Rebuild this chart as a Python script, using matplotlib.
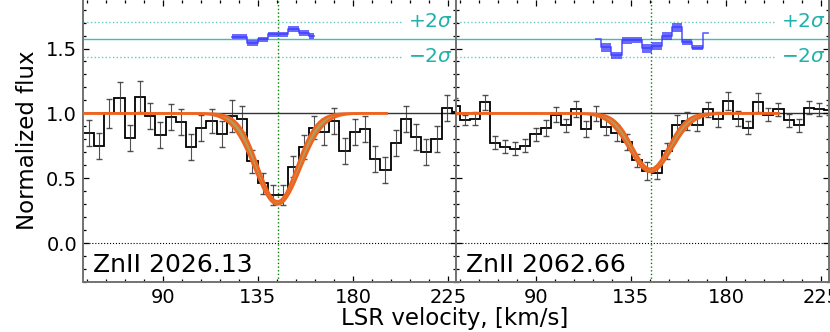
import numpy as np
import matplotlib.pyplot as plt

# velocity grid of the binned spectra (km/s): first bin centre and bin width
vstart_left, dv_left = 55.0, 4.84
vstart_right, dv_right = 51.55, 4.79

flux_left = [0.85, 0.75, 1.00, 1.12, 0.81, 1.13, 0.98, 0.83, 0.97, 0.93,
             0.74, 0.89, 0.94, 0.84, 0.98, 0.96, 0.63, 0.46, 0.37, 0.37,
             0.59, 0.74, 0.89, 0.86, 0.94, 0.71, 0.86, 0.88, 0.65, 0.56,
             0.77, 0.96, 0.82, 0.70, 0.80, 1.04, 1.01]
err_left = [0.10, 0.10, 0.11, 0.12, 0.10, 0.12, 0.10, 0.10, 0.10, 0.10,
            0.10, 0.10, 0.09, 0.10, 0.12, 0.10, 0.09, 0.08, 0.08, 0.08,
            0.08, 0.09, 0.09, 0.10, 0.10, 0.10, 0.10, 0.10, 0.10, 0.10,
            0.10, 0.10, 0.10, 0.10, 0.10, 0.10, 0.10]

flux_right = [1.056, 0.948, 0.96, 1.084, 0.775, 0.741, 0.729, 0.749, 0.839, 0.888,
              0.991, 0.909, 1.032, 0.878, 0.999, 0.896, 0.85, 0.78, 0.639, 0.554,
              0.543, 0.71, 0.914, 0.94, 0.914, 1.03, 0.953, 1.094, 0.96, 0.891,
              1.084, 0.991, 1.032, 0.948, 0.909, 1.043, 1.032, 1.025]
err_right = [0.06, 0.04, 0.05, 0.06, 0.05, 0.05, 0.05, 0.05, 0.05, 0.06,
             0.06, 0.05, 0.06, 0.06, 0.06, 0.06, 0.06, 0.06, 0.05, 0.07,
             0.05, 0.06, 0.07, 0.07, 0.05, 0.06, 0.06, 0.07, 0.06, 0.05,
             0.07, 0.05, 0.05, 0.05, 0.05, 0.05, 0.05, 0.04]

# residuals (shifted to the residual zero level), first bin index
res_first_left = 14
res_left = [1.59, 1.59, 1.543, 1.572, 1.61, 1.61, 1.651, 1.62, 1.597]
res_err_left = [0.019, 0.019, 0.026, 0.019, 0.019, 0.019, 0.022, 0.026, 0.026]
res_first_right = 14
res_right = [1.577, 1.508, 1.448, 1.564, 1.562, 1.502, 1.52, 1.595, 1.662, 1.551, 1.505, 1.616]
res_err_right = [0.0, 0.032, 0.026, 0.026, 0.023, 0.036, 0.03, 0.03, 0.035, 0.026, 0.02, 0.0]

res_zero = 1.57
res_2sig = 0.135

# gaussian fit: depth, centre, sigma, velocity range
fit_left = (0.69, 144.3, 10.0, 52.0, 196.0)
fit_right = (0.44, 144.3, 9.3, 52.0, 205.0)

lines = ["ZnII 2026.13", "ZnII 2062.66"]
v_line = 144.3
xlim = (52.1, 228.6)
ylim = (-0.30, 1.874)

W, H = 830, 332
fig = plt.figure(figsize=(W / 100, H / 100), dpi=100)
ax1 = fig.add_axes([82.7 / W, 50 / H, 373 / W, 282 / H])
ax2 = fig.add_axes([455.7 / W, 50 / H, 373 / W, 282 / H])

panels = [(ax1, vstart_left, dv_left, flux_left, err_left, res_first_left, res_left, res_err_left, fit_left),
          (ax2, vstart_right, dv_right, flux_right, err_right, res_first_right, res_right, res_err_right, fit_right)]

for i, (ax, vs, dv, fl, er, rf, rs, rse, fit) in enumerate(panels):
    fl = np.array(fl)
    vel = vs + dv * np.arange(len(fl))
    edges = np.append(vel - dv / 2, vel[-1] + dv / 2)

    ax.axhline(1.0, color='k', lw=1.0, alpha=0.8, zorder=1)
    ax.axhline(0.0, color='k', lw=0.8, ls=':', zorder=1)
    ax.axvline(v_line, color='green', lw=1.0, ls=':', zorder=1)

    ax.stairs(fl, edges, baseline=None, color='k', lw=1.3, zorder=2)
    ax.errorbar(vel, fl, yerr=er, fmt='none', ecolor='0.2', elinewidth=0.8,
                capsize=2, capthick=1.0, alpha=0.85, zorder=2)

    # fit with its uncertainty band
    A, vc, sg, v1, v2 = fit
    vm = np.linspace(v1, v2, 400)
    m_hi = 1 - (A - 0.012) * np.exp(-(vm - vc) ** 2 / (2 * (sg - 0.8) ** 2))
    m_lo = 1 - (A + 0.012) * np.exp(-(vm - vc) ** 2 / (2 * (sg + 0.8) ** 2))
    ax.fill_between(vm, m_lo, m_hi, color='#b39a5a', lw=0, zorder=3)
    ax.plot(vm, m_hi, color='#f0641e', lw=1.8, zorder=4)
    ax.plot(vm, m_lo, color='#f0641e', lw=1.8, zorder=4)

    # residuals
    rs = np.array(rs)
    rse = np.array(rse)
    vr = vel[rf:rf + len(rs)]
    ax.axhline(res_zero, color='lightseagreen', lw=1.0, alpha=0.85, zorder=1)
    for s in (1, -1):
        ax.plot([xlim[0], 203.8], [res_zero + s * res_2sig] * 2, color='lightseagreen',
                lw=1.0, ls=':', alpha=0.7, zorder=1)
    ax.text(206, res_zero + res_2sig, r'$+2\sigma$', color='lightseagreen', fontsize=14.5,
            ha='left', va='center')
    ax.text(206, res_zero - res_2sig, r'$-2\sigma$', color='lightseagreen', fontsize=14.5,
            ha='left', va='center')
    ax.fill_between(vr, rs - rse, rs + rse, step='mid', color='#3a3aff', alpha=0.75,
                    lw=0, zorder=3)
    ax.step(vr, rs, where='mid', color='#3a3aff', lw=1.3, alpha=0.75, zorder=3)

    ax.text(0.028, 0.035, lines[i], transform=ax.transAxes, fontsize=18,
            ha='left', va='baseline')

    ax.set_xlim(*xlim)
    ax.set_ylim(*ylim)
    ax.set_xticks([90, 135, 180, 225])
    ax.set_xticks(np.arange(54, 229, 9), minor=True)
    ax.set_yticks([0.0, 0.5, 1.0, 1.5])
    ax.set_yticks(np.arange(-0.3, 1.88, 0.1), minor=True)
    ax.tick_params(which='both', direction='in', top=True, right=True,
                   labelsize=14, width=0.9)
    ax.tick_params(which='major', length=4.5, pad=4)
    ax.tick_params(which='minor', length=2.5)
    for sp in ax.spines.values():
        sp.set_color('0.45')
        sp.set_linewidth(1.4)
    ax.spines['top'].set_visible(False)
    if i == 1:
        ax.tick_params(labelleft=False)

fig.text(28 / W, 0.578, 'Normalized flux', rotation=90, fontsize=16.5,
         ha='center', va='center')
fig.text(455 / W, 0.042, 'LSR velocity, [km/s]', fontsize=16.5, ha='center', va='center')

fig.savefig('out.png', dpi=100)
